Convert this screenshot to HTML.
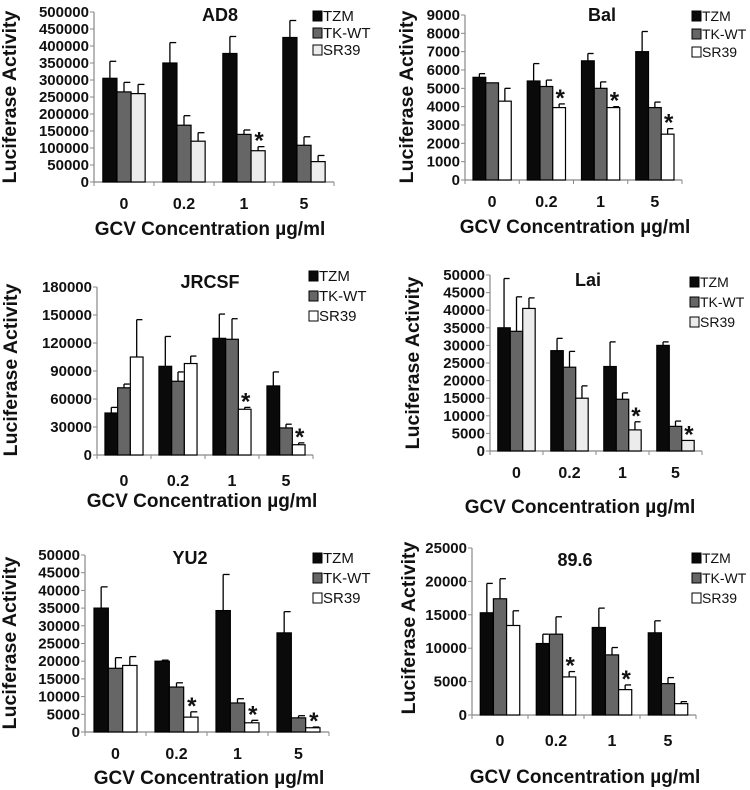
<!DOCTYPE html>
<html><head><meta charset="utf-8">
<style>
html,body{margin:0;padding:0;background:#fff;}
svg{display:block;font-family:"Liberation Sans",Arial,sans-serif;font-weight:bold;}
</style></head>
<body>
<svg id="fig" width="750" height="790" viewBox="0 0 750 790" xmlns="http://www.w3.org/2000/svg"></svg>
<script>
const categories = ["0","0.2","1","5"];
const seriesNames = ["TZM","TK-WT","SR39"];

const ad8TZM = [305000,350000,378000,425000], ad8TZMErr = [50000,60000,50000,50000];
const ad8TK = [265000,167000,140000,108000], ad8TKErr = [28000,28000,13000,25000];
const ad8SR = [260000,120000,92000,60000], ad8SRErr = [27000,25000,12000,18000];
const ad8Ticks = [0,50000,100000,150000,200000,250000,300000,350000,400000,450000,500000];
const ad8Stars = [2];

const balTZM = [5600,5400,6500,7000], balTZMErr = [200,950,400,1100];
const balTK = [5300,5100,5000,3950], balTKErr = [0,350,350,300];
const balSR = [4300,3950,3950,2500], balSRErr = [700,200,50,300];
const balTicks = [0,1000,2000,3000,4000,5000,6000,7000,8000,9000];
const balStars = [1,2,3];

const jrTZM = [45000,95000,125000,74000], jrTZMErr = [6000,32000,26000,15000];
const jrTK = [72000,79000,124000,29000], jrTKErr = [4000,10000,22000,4000];
const jrSR = [105000,98000,49000,11000], jrSRErr = [40000,8000,2000,2000];
const jrTicks = [0,30000,60000,90000,120000,150000,180000];
const jrStars = [2,3];

const laiTZM = [35000,28500,24000,30000], laiTZMErr = [14000,3500,7000,1000];
const laiTK = [34000,23800,14700,7000], laiTKErr = [9800,4500,1800,1500];
const laiSR = [40500,15000,6000,3000], laiSRErr = [3000,3500,2300,0];
const laiTicks = [0,5000,10000,15000,20000,25000,30000,35000,40000,45000,50000];
const laiStars = [2,3];

const yuTZM = [35000,20000,34300,28000], yuTZMErr = [6000,300,10200,6000];
const yuTK = [18000,12700,8200,4000], yuTKErr = [3000,1200,1200,600];
const yuSR = [18800,4200,2600,1200], yuSRErr = [2500,1500,700,200];
const yuTicks = [0,5000,10000,15000,20000,25000,30000,35000,40000,45000,50000];
const yuStars = [1,2,3];

const v89TZM = [15300,10700,13100,12300], v89TZMErr = [4400,1400,2900,1800];
const v89TK = [17400,12100,9000,4700], v89TKErr = [3000,2600,1100,900];
const v89SR = [13400,5700,3800,1700], v89SRErr = [2200,800,700,300];
const v89Ticks = [0,5000,10000,15000,20000,25000];
const v89Stars = [1,2];

const NS="http://www.w3.org/2000/svg";
const svg=document.getElementById('fig');
function mk(tag,attrs,parent){const e=document.createElementNS(NS,tag);for(const k in attrs)e.setAttribute(k,attrs[k]);(parent||svg).appendChild(e);return e;}

function panel(p){
  const g=mk('g',{});
  
  
  const yMax=p.ticks[p.ticks.length-1];
  const ys=v=>p.y0-(v/yMax)*(p.y0-p.yTop);
  const gw=(p.xr-p.x0)/categories.length;
  const xc=i=>p.x0+gw*(i+0.5);
  const bw=gw*0.235;
  const ya=mk('line',{x1:p.x0,y1:p.yTop,x2:p.x0,y2:p.y0,stroke:'#888','stroke-width':1.2},g);
  
  
  p.ticks.forEach(t=>{
    mk('line',{x1:p.x0-4,y1:ys(t),x2:p.x0,y2:ys(t),stroke:'#888','stroke-width':1},g);
    const tx=mk('text',{x:p.x0-5,y:ys(t)+5,'text-anchor':'end','font-size':15,fill:'#111'},g);
    tx.textContent=t;
    
    
  });
  const xa=mk('line',{x1:p.x0,y1:p.y0,x2:p.xr,y2:p.y0,stroke:'#888','stroke-width':1.2},g);
  
  
  for(let i=0;i<=categories.length;i++) mk('line',{x1:p.x0+gw*i,y1:p.y0,x2:p.x0+gw*i,y2:p.y0+4,stroke:'#888','stroke-width':1},g);
  const fills=['#0a0a0a','#666',p.srFill];
  p.series.forEach((s,si)=>{
    s.v.forEach((v,i)=>{
      const x=xc(i)+(si-1.5)*bw;
      const r=mk('rect',{x:x,y:ys(v),width:bw,height:p.y0-ys(v),fill:fills[si],stroke:'#000','stroke-width':1.2},g);
      
      
      const e=s.e[i];
      if(e>0){
        const ex=x+bw/2;
        mk('line',{x1:ex,y1:ys(v),x2:ex,y2:ys(v+e),stroke:'#000','stroke-width':1.3},g);
        mk('line',{x1:ex,y1:ys(v+e),x2:ex+bw*0.45,y2:ys(v+e),stroke:'#000','stroke-width':1.3},g);
      }
      if(si===2 && p.stars.includes(i)){
        const st=mk('text',{x:x+bw/2+1,y:ys(v+e)+2,'text-anchor':'middle','font-size':24,fill:'#111'},g);
        st.textContent='*';
        
        
      }
    });
  });
  categories.forEach((c,i)=>{
    const t=mk('text',{x:xc(i),y:p.xly,'text-anchor':'middle','font-size':16,fill:'#111'},g);
    t.textContent=c;
    
    
  });
  const tt=mk('text',{x:p.tx,y:p.ty,'text-anchor':'middle','font-size':18,fill:'#111'},g);
  tt.textContent=p.title;
  
  
  const xt=mk('text',{x:p.xtx,y:p.xty,'text-anchor':'middle','font-size':19,fill:'#111'},g);
  xt.textContent='GCV Concentration µg/ml';
  
  
  const yt=mk('text',{x:0,y:0,'text-anchor':'middle','font-size':19.5,fill:'#111',transform:`translate(${p.ytx},${p.yty}) rotate(-90)`},g);
  yt.textContent='Luciferase Activity';
  
  
  seriesNames.forEach((n,i)=>{
    const ly=p.ly+i*p.lgap;
    const sw=mk('rect',{x:p.lx,y:ly-10,width:9,height:10,fill:fills[i],stroke:'#000','stroke-width':1},g);
    
    
    const lt=mk('text',{x:p.lx+10,y:ly,'font-size':p.lfs||15,'font-weight':'normal',fill:'#111'},g);
    lt.textContent=n;
    
    
  });
}

panel({key:'ad8',title:'AD8',x0:94,xr:334,y0:182,yTop:12,ticks:ad8Ticks,stars:ad8Stars,srFill:'#ececec',
  series:[{v:ad8TZM,e:ad8TZMErr},{v:ad8TK,e:ad8TKErr},{v:ad8SR,e:ad8SRErr}],
  xly:209,tx:220,ty:21,xtx:210,xty:235,ytx:16,yty:97,lx:313,ly:21,lgap:17});
panel({key:'bal',title:'Bal',x0:465,xr:682,y0:180,yTop:15,ticks:balTicks,stars:balStars,srFill:'#fff',
  series:[{v:balTZM,e:balTZMErr},{v:balTK,e:balTKErr},{v:balSR,e:balSRErr}],
  xly:207,tx:602,ty:21,xtx:575,xty:233,ytx:413,yty:97,lx:692,ly:21,lgap:18,lfs:14});
panel({key:'jrcsf',title:'JRCSF',x0:97,xr:313,y0:455,yTop:287,ticks:jrTicks,stars:jrStars,srFill:'#fff',
  series:[{v:jrTZM,e:jrTZMErr},{v:jrTK,e:jrTKErr},{v:jrSR,e:jrSRErr}],
  xly:486,tx:210,ty:288,xtx:202,xty:507,ytx:17,yty:370,lx:309,ly:281,lgap:20});
panel({key:'lai',title:'Lai',x0:490,xr:702,y0:451,yTop:275,ticks:laiTicks,stars:laiStars,srFill:'#ececec',
  series:[{v:laiTZM,e:laiTZMErr},{v:laiTK,e:laiTKErr},{v:laiSR,e:laiSRErr}],
  xly:478,tx:588,ty:286,xtx:580,xty:513,ytx:419,yty:363,lx:690,ly:287,lgap:20,lfs:14});
panel({key:'yu2',title:'YU2',x0:85,xr:329,y0:732,yTop:555,ticks:yuTicks,stars:yuStars,srFill:'#fff',
  series:[{v:yuTZM,e:yuTZMErr},{v:yuTK,e:yuTKErr},{v:yuSR,e:yuSRErr}],
  xly:759,tx:190,ty:564,xtx:209,xty:784,ytx:16,yty:643,lx:313,ly:563,lgap:20});
panel({key:'v896',title:'89.6',x0:472,xr:696,y0:715,yTop:548,ticks:v89Ticks,stars:v89Stars,srFill:'#fff',
  series:[{v:v89TZM,e:v89TZMErr},{v:v89TK,e:v89TKErr},{v:v89SR,e:v89SRErr}],
  xly:746,tx:575,ty:566,xtx:585,xty:783,ytx:415,yty:628,lx:692,ly:563,lgap:20,lfs:14});
</script>
</body></html>
